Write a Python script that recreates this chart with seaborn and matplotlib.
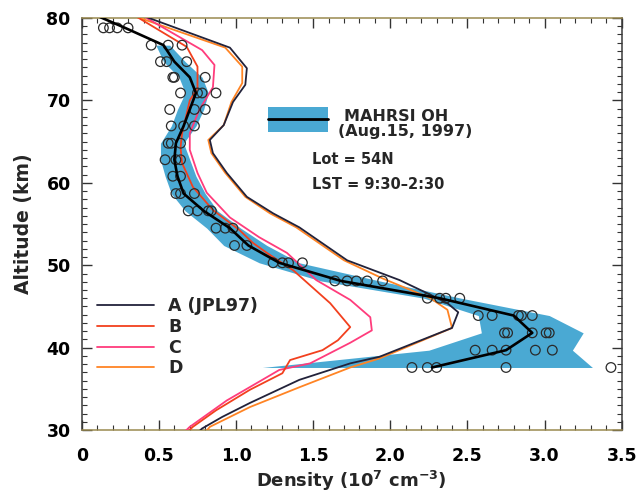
import numpy as np
import pandas as pd
import matplotlib
matplotlib.use("Agg")
import matplotlib.pyplot as plt
import seaborn as sns
from matplotlib.patches import Rectangle
from matplotlib.lines import Line2D
from matplotlib.ticker import MultipleLocator

sns.set_theme(style="ticks")
plt.rcParams['font.family'] = ['DejaVu Sans']
plt.rcParams['mathtext.default'] = 'regular'

# ---------------- data ----------------
# MAHRSI individual retrievals (rows of altitude, several profiles each)
row_alt = [78.8, 76.7, 74.7, 72.8, 70.9, 68.9, 66.9, 64.8, 62.8, 60.8, 58.7,
           56.6, 54.5, 52.4, 50.3, 48.1, 46.0, 43.9, 41.8, 39.7, 37.6]
row_dens = [
    [0.14, 0.18, 0.23, 0.30],
    [0.45, 0.56, 0.65],
    [0.51, 0.55, 0.68],
    [0.59, 0.60, 0.80],
    [0.64, 0.75, 0.78, 0.87],
    [0.57, 0.73, 0.80],
    [0.58, 0.66, 0.73],
    [0.56, 0.58, 0.64],
    [0.54, 0.61, 0.64],
    [0.59, 0.64],
    [0.61, 0.64, 0.73],
    [0.69, 0.75, 0.82, 0.84],
    [0.87, 0.93, 0.98],
    [0.99, 1.07],
    [1.24, 1.30, 1.34, 1.43],
    [1.64, 1.72, 1.78, 1.85, 1.95],
    [2.24, 2.32, 2.36, 2.45],
    [2.57, 2.66, 2.83, 2.85, 2.92],
    [2.74, 2.76, 2.92, 3.01, 3.03],
    [2.55, 2.66, 2.75, 2.94, 3.05],
    [2.14, 2.24, 2.30, 2.75, 3.43],
]

# MAHRSI mean profile
mean_alt = [80.5, 78.8, 76.7, 74.7, 72.8, 70.9, 68.9, 66.9, 64.8, 62.8, 60.8,
            58.7, 56.6, 54.5, 52.4, 50.3, 48.1, 46.0, 43.9, 41.8, 39.7, 37.6]
mean_dens = [0.07, 0.28, 0.53, 0.60, 0.70, 0.74, 0.70, 0.66, 0.61, 0.60, 0.62,
             0.66, 0.79, 0.96, 1.08, 1.28, 1.68, 2.32, 2.80, 2.92, 2.75, 2.27]

# MAHRSI variability envelope
band_alt = [76.7, 74.7, 72.8, 70.9, 68.9, 66.9, 64.8, 62.8, 60.8, 58.7, 56.6,
            54.5, 52.4, 50.3, 48.1, 46.0, 43.9, 41.8, 39.7, 37.6]
band_lo = [0.48, 0.53, 0.63, 0.67, 0.62, 0.58, 0.51, 0.51, 0.54, 0.58, 0.67,
           0.81, 0.92, 1.15, 1.55, 2.22, 2.57, 2.59, 2.25, 1.17]
band_hi = [0.57, 0.67, 0.78, 0.82, 0.79, 0.74, 0.66, 0.70, 0.74, 0.80, 0.88,
           1.03, 1.20, 1.41, 1.93, 2.46, 3.03, 3.25, 3.18, 3.31]

# Model profiles
a_alt = [80.6, 80.1, 76.4, 73.9, 71.9, 69.8, 67.0, 65.2, 63.6, 61.2, 58.3, 56.3,
         54.6, 50.6, 48.2, 46.6, 45.4, 44.3, 42.4, 38.9, 38.1, 36.1, 33.3, 31.6,
         30.2, 29.5]
a_dens = [0.37, 0.42, 0.96, 1.07, 1.06, 0.98, 0.92, 0.83, 0.85, 0.94, 1.07, 1.24,
          1.41, 1.72, 2.06, 2.24, 2.37, 2.44, 2.40, 1.93, 1.74, 1.41, 1.09, 0.91,
          0.78, 0.74]

b_alt = [80.6, 80.1, 76.5, 74.1, 71.5, 70.0, 66.0, 64.3, 62.4, 59.5, 56.7, 54.3,
         52.7, 51.5, 49.4, 45.4, 42.5, 40.9, 39.7, 38.5, 36.9, 34.9, 32.4, 30.4,
         29.5]
b_dens = [0.33, 0.36, 0.68, 0.75, 0.75, 0.70, 0.65, 0.64, 0.65, 0.72, 0.85, 1.02,
          1.11, 1.20, 1.37, 1.61, 1.74, 1.66, 1.56, 1.35, 1.30, 1.09, 0.87, 0.72,
          0.67]

c_alt = [80.6, 80.1, 76.1, 74.3, 71.6, 68.8, 66.0, 64.0, 61.2, 58.8, 55.8, 53.4,
         51.5, 48.2, 45.8, 43.7, 42.1, 40.6, 38.1, 37.3, 36.1, 33.6, 30.4, 29.5]
c_dens = [0.37, 0.41, 0.78, 0.86, 0.85, 0.76, 0.70, 0.70, 0.75, 0.81, 0.96, 1.15,
          1.33, 1.52, 1.74, 1.87, 1.88, 1.74, 1.48, 1.28, 1.17, 0.94, 0.70, 0.65]

d_alt = [80.6, 80.1, 76.4, 74.1, 72.1, 69.8, 67.0, 65.2, 63.6, 61.2, 58.3, 56.3,
         54.6, 50.6, 48.4, 46.0, 44.6, 42.4, 38.7, 37.6, 35.2, 32.8, 30.4, 29.5]
d_dens = [0.31, 0.36, 0.93, 1.04, 1.04, 0.97, 0.92, 0.82, 0.84, 0.93, 1.06, 1.22,
          1.39, 1.70, 1.95, 2.26, 2.37, 2.40, 1.93, 1.74, 1.41, 1.09, 0.83, 0.79]

model_labels = ["A (JPL97)", "B", "C", "D"]
model_colors = ["#22223a", "#f2401e", "#ff3c7c", "#ff8424"]

x_ticks = [0, 0.5, 1.0, 1.5, 2.0, 2.5, 3.0, 3.5]
x_ticklabels = ["0", "0.5", "1.0", "1.5", "2.0", "2.5", "3.0", "3.5"]
y_ticks = [30, 40, 50, 60, 70, 80]

# ---------------- tables ----------------
pts = pd.DataFrame({
    "altitude": [a for a, row in zip(row_alt, row_dens) for _ in row],
    "density": [v for row in row_dens for v in row],
})
models = pd.concat([
    pd.DataFrame({"model": lab, "altitude": al, "density": de})
    for lab, al, de in zip(model_labels, [a_alt, b_alt, c_alt, d_alt],
                           [a_dens, b_dens, c_dens, d_dens])
], ignore_index=True)
mean_df = pd.DataFrame({"altitude": mean_alt, "density": mean_dens})

# ---------------- figure ----------------
fig = plt.figure(figsize=(6.39, 4.99), dpi=100)
ax = fig.add_axes([0.128, 0.138, 0.845, 0.826])
band_color = "#4aa9d3"

ax.fill_betweenx(band_alt, band_lo, band_hi, color=band_color, lw=0, zorder=1)

draw_order = ["D", "C", "B", "A (JPL97)"]
cmap = dict(zip(model_labels, model_colors))
for lab in draw_order:
    sub = models[models["model"] == lab]
    sns.lineplot(data=sub, x="density", y="altitude", sort=False, estimator=None,
                 color=cmap[lab], lw=1.3, ax=ax, zorder=3)

sns.scatterplot(data=pts, x="density", y="altitude", marker="o", s=48,
                facecolors="none", edgecolor="#2a2a2a", linewidth=0.9,
                ax=ax, zorder=4)

sns.lineplot(data=mean_df, x="density", y="altitude", sort=False, estimator=None,
             color="black", lw=1.9, ax=ax, zorder=5)

ax.set_xlim(0, 3.5)
ax.set_ylim(30, 80)
ax.set_xticks(x_ticks)
ax.set_xticklabels(x_ticklabels)
ax.set_yticks(y_ticks)
ax.xaxis.set_minor_locator(MultipleLocator(0.1))
ax.yaxis.set_minor_locator(MultipleLocator(1))
ax.tick_params(which="both", direction="in", top=True, right=True, colors="#333333")
ax.tick_params(which="major", length=7, width=1.0, labelsize=12.5)
ax.tick_params(which="minor", length=3.5, width=0.8)
ax.tick_params(axis="x", which="major", pad=12)
ax.tick_params(axis="y", which="major", pad=8)
for lbl in ax.get_xticklabels() + ax.get_yticklabels():
    lbl.set_fontweight("bold")
    lbl.set_color("black")
for side in ["left", "right"]:
    ax.spines[side].set_color("#3a3a3a")
for side in ["top", "bottom"]:
    ax.spines[side].set_color("#9a8a50")
for sp in ax.spines.values():
    sp.set_linewidth(1.1)

ax.set_xlabel("Density (10$^7$ cm$^{-3}$)", fontsize=13, fontweight="bold", labelpad=3)
ax.set_ylabel("Altitude (km)", fontsize=13.5, fontweight="bold", labelpad=10)

# model legend
handles = [Line2D([], [], color=c, lw=1.3) for c in model_colors]
leg = ax.legend(handles, model_labels, loc="center left", bbox_to_anchor=(0.028, 0.225),
                frameon=False, fontsize=12.5, handlelength=3.3, handletextpad=0.8,
                labelspacing=0.15, borderpad=0, borderaxespad=0)
for t in leg.get_texts():
    t.set_fontweight("bold")

# MAHRSI key
ax.add_patch(Rectangle((1.205, 66.2), 0.39, 3.0, facecolor=band_color, edgecolor="none", zorder=6))
ax.plot([1.205, 1.595], [67.7, 67.7], color="black", lw=2.0, zorder=7)
ax.text(1.70, 68.1, "MAHRSI OH", fontsize=11.5, fontweight="bold", va="center", ha="left")
ax.text(1.66, 66.2, "(Aug.15, 1997)", fontsize=11.5, fontweight="bold", va="center", ha="left")
ax.text(1.49, 62.8, "Lot = 54N", fontsize=10.5, fontweight="bold", va="center", ha="left")
ax.text(1.49, 59.8, "LST = 9:30\u20132:30", fontsize=10.5, fontweight="bold", va="center", ha="left")

fig.savefig("out.png", dpi=100, facecolor="white")
